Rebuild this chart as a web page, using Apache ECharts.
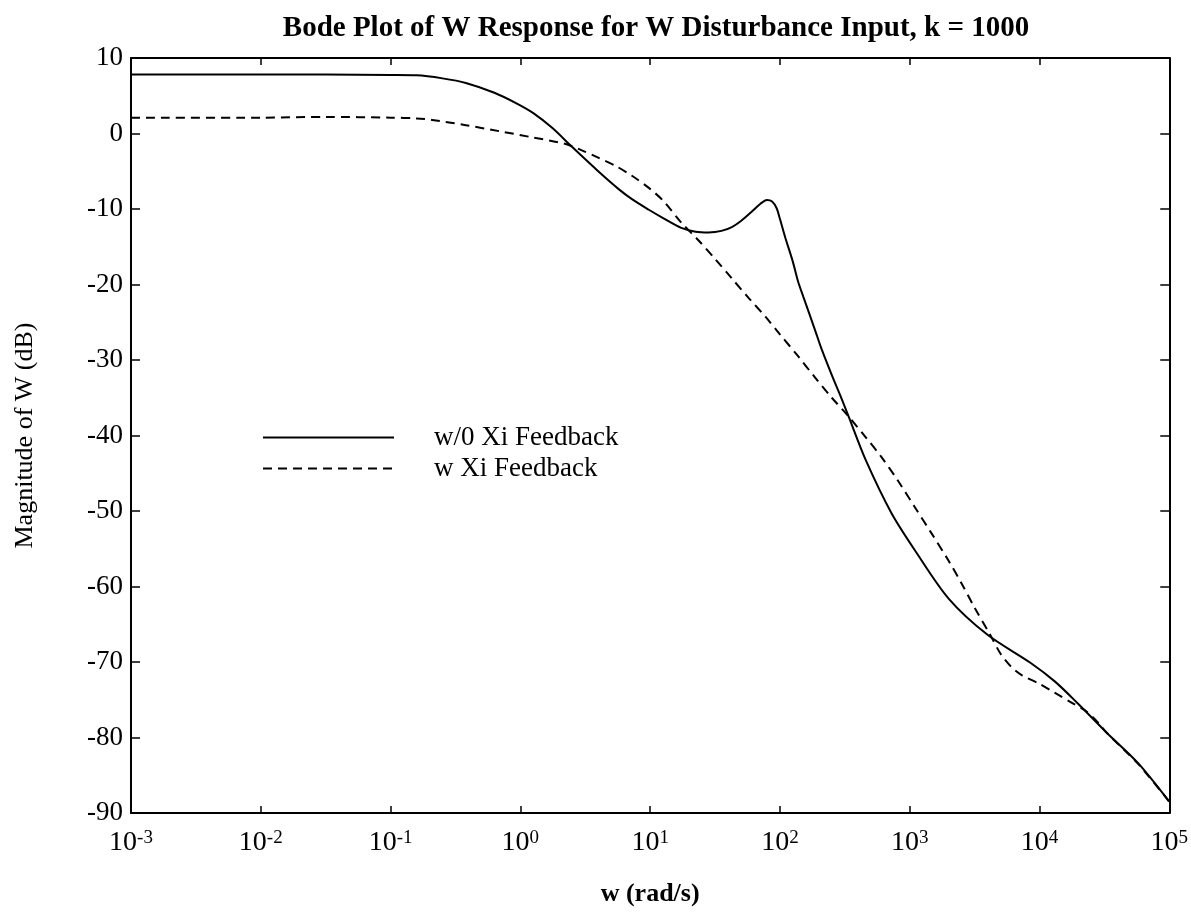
<!DOCTYPE html>
<html>
<head>
<meta charset="utf-8">
<title>Bode Plot of W Response</title>
<script src="https://cdn.jsdelivr.net/npm/echarts@6/dist/echarts.min.js"></script>
<style>
  html, body { margin: 0; padding: 0; background: #fff; }
  #chart { width: 1191px; height: 921px; }
</style>
</head>
<body>
<div id="chart"></div>
<script>
// Frequency points are given as decades: log10(w), w in rad/s
const noFeedbackLogW = [-3, -2, -1.5, -1, -0.8, -0.6, -0.42, -0.2, -0.03, 0.1, 0.245, 0.4, 0.6, 0.76, 0.86, 0.99, 1.1, 1.24, 1.35, 1.45, 1.55, 1.63, 1.7, 1.78, 1.85, 1.9, 1.94, 1.975, 2.0, 2.04, 2.1, 2.14, 2.18, 2.27, 2.32, 2.4, 2.475, 2.53, 2.66, 2.86, 3.04, 3.3, 3.6, 3.93, 4.12, 4.29, 4.52, 4.76, 5];
const noFeedbackDb = [7.8, 7.8, 7.8, 7.75, 7.7, 7.3, 6.7, 5.4, 4.0, 2.7, 0.75, -1.8, -5.0, -7.4, -8.7, -10.1, -11.2, -12.5, -13.0, -13.1, -12.9, -12.4, -11.6, -10.4, -9.3, -8.8, -9.0, -9.9, -11.3, -13.7, -17.0, -19.6, -21.6, -26.0, -28.5, -32.0, -35.1, -37.5, -43.2, -50.3, -55.2, -61.6, -66.4, -70.1, -72.6, -75.4, -79.4, -83.4, -88.5];

const xiFeedbackLogW = [-3, -2, -1.5, -1, -0.8, -0.68, -0.42, -0.16, 0.09, 0.35, 0.47, 0.6, 0.735, 0.86, 0.99, 1.1, 1.24, 1.37, 1.5, 1.63, 1.76, 1.89, 2.0, 2.14, 2.27, 2.4, 2.53, 2.66, 2.78, 2.91, 3.04, 3.17, 3.3, 3.4, 3.5, 3.62, 3.7, 3.78, 3.86, 4.0, 4.12, 4.25, 4.35, 4.45, 4.52, 4.76, 5];
const xiFeedbackDb = [2.1, 2.1, 2.2, 2.1, 2.0, 1.8, 1.1, 0.3, -0.5, -1.4, -2.2, -3.2, -4.3, -5.6, -7.2, -8.9, -11.8, -14.1, -16.6, -19.2, -21.8, -24.3, -26.6, -29.5, -32.3, -35.0, -37.5, -40.2, -42.8, -46.0, -49.5, -53.0, -56.6, -59.6, -62.8, -66.4, -68.9, -70.6, -71.7, -72.9, -74.1, -75.4, -76.4, -78.0, -79.4, -83.5, -88.5];

const seriesNames = ['w/0 Xi Feedback', 'w Xi Feedback'];
const yTicks = { min: -90, max: 10, step: 10 };
const xRange = { min: 1e-3, max: 1e5 };

const FONT = "'Liberation Serif', 'Times New Roman', Times, serif";

function toPairs(logW, db) {
  return logW.map((e, i) => [Math.pow(10, e), db[i]]);
}

const chart = echarts.init(document.getElementById('chart'), null, { renderer: 'canvas' });

const xBase = {
  type: 'log',
  logBase: 10,
  min: xRange.min,
  max: xRange.max,
  interval: 1,
  splitLine: { show: false },
  axisLine: { show: true, onZero: false, lineStyle: { color: '#000', width: 2 } },
  axisTick: { show: true, inside: true, length: 7, lineStyle: { color: '#000', width: 1.5 } }
};
const yBase = {
  type: 'value',
  min: yTicks.min,
  max: yTicks.max,
  interval: yTicks.step,
  splitLine: { show: false },
  axisLine: { show: true, onZero: false, lineStyle: { color: '#000', width: 2 } },
  axisTick: { show: true, inside: true, length: 9, lineStyle: { color: '#000', width: 1.5 } }
};

chart.setOption({
  backgroundColor: '#fff',
  animation: false,
  title: {
    text: 'Bode Plot of W Response for W Disturbance Input, k = 1000',
    left: 651,
    top: 9,
    textAlign: 'center',
    textStyle: { fontFamily: FONT, fontSize: 29, fontWeight: 'bold', color: '#000' }
  },
  legend: {
    orient: 'vertical',
    left: 262,
    top: 424,
    padding: 0,
    itemWidth: 131,
    itemHeight: 14,
    itemGap: 4,
    data: seriesNames,
    // line samples only, no marker on them
    itemStyle: { opacity: 0 },
    textStyle: { fontFamily: FONT, fontSize: 27, color: '#000', padding: [0, 0, 0, 35] }
  },
  grid: { left: 131, right: 19, top: 58, bottom: 108, containLabel: false },
  xAxis: [
    Object.assign({}, xBase, {
      position: 'bottom',
      name: 'w (rad/s)',
      nameLocation: 'middle',
      nameGap: 68,
      nameTextStyle: { fontFamily: FONT, fontSize: 26, fontWeight: 'bold', color: '#000' },
      axisLabel: {
        show: true,
        margin: 14,
        showMinLabel: true,
        showMaxLabel: true,
        formatter: function (v) {
          const e = Math.round(Math.log10(v));
          return '{b|10}{s|' + e + '}';
        },
        rich: {
          b: { fontFamily: FONT, fontSize: 28, color: '#000', lineHeight: 30, verticalAlign: 'bottom' },
          s: { fontFamily: FONT, fontSize: 19, color: '#000', verticalAlign: 'top', padding: [2, 0, 0, 0] }
        }
      }
    }),
    Object.assign({}, xBase, {
      position: 'top',
      axisLabel: { show: false }
    })
  ],
  yAxis: [
    Object.assign({}, yBase, {
      position: 'left',
      name: 'Magnitude of W (dB)',
      nameLocation: 'middle',
      nameGap: 93,
      nameRotate: 90,
      nameTextStyle: { fontFamily: FONT, fontSize: 26, color: '#000' },
      axisLabel: { show: true, margin: 8, fontFamily: FONT, fontSize: 27, color: '#000' }
    }),
    Object.assign({}, yBase, {
      position: 'right',
      axisLabel: { show: false }
    })
  ],
  series: [
    {
      name: seriesNames[0],
      type: 'line',
      xAxisIndex: 0,
      yAxisIndex: 0,
      data: toPairs(noFeedbackLogW, noFeedbackDb),
      showSymbol: false,
      symbol: 'none',
      smooth: 0.3,
      lineStyle: { color: '#000', width: 2, type: 'solid' },
      itemStyle: { color: '#000' }
    },
    {
      name: seriesNames[1],
      type: 'line',
      xAxisIndex: 0,
      yAxisIndex: 0,
      data: toPairs(xiFeedbackLogW, xiFeedbackDb),
      showSymbol: false,
      symbol: 'none',
      smooth: 0.3,
      lineStyle: { color: '#000', width: 2, type: [9, 6] },
      itemStyle: { color: '#000' }
    }
  ]
});
</script>
</body>
</html>
